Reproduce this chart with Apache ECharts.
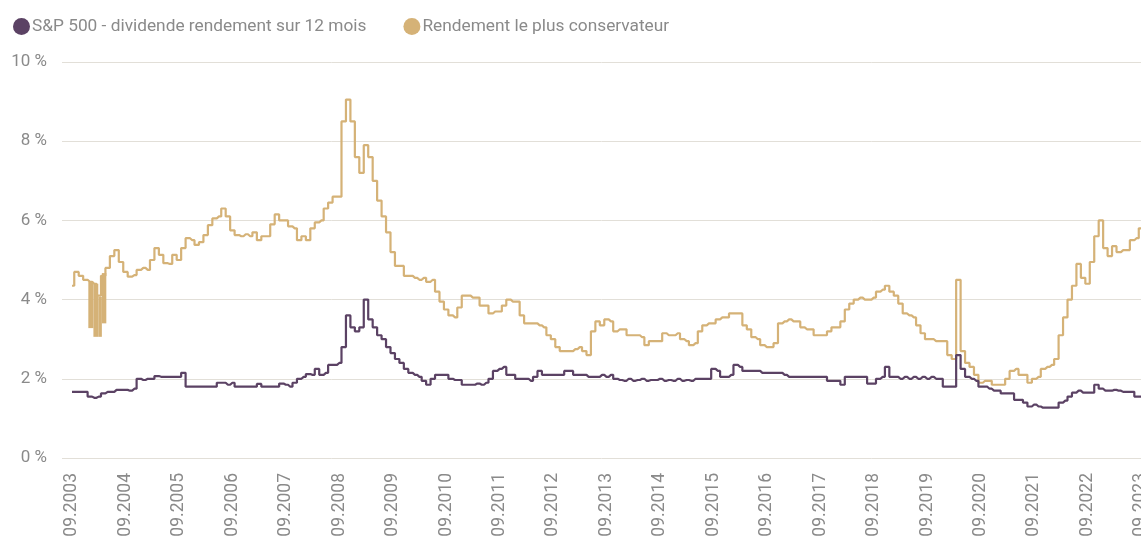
<!DOCTYPE html>
<html>
<head>
<meta charset="utf-8">
<script src="https://cdn.jsdelivr.net/npm/echarts@6/dist/echarts.min.js"></script>
<style>
  html, body { margin: 0; padding: 0; background: #fff; }
  #chart { width: 1141px; height: 539px; }
</style>
</head>
<body>
<div id="chart"></div>
<script>
// mois depuis 09.2003 (0 = 09.2003, 240 = 09.2023)
var startYear = 2003;
var tickMonths = [0, 12, 24, 36, 48, 60, 72, 84, 96, 108, 120, 132, 144, 156, 168, 180, 192, 204, 216, 228, 240];

// S&P 500 - dividende rendement sur 12 mois (valeurs mensuelles, %)
var dividendYield = [
    1.67, 1.67, 1.67, 1.67, 1.55, 1.52, 1.55, 1.63, 1.67, 1.67, 1.72, 1.72,
    1.72, 1.7, 1.75, 2.0, 1.97, 2.0, 2.0, 2.07, 2.05, 2.05, 2.05, 2.05,
    2.05, 2.15, 1.8, 1.8, 1.8, 1.8, 1.8, 1.8, 1.8, 1.9, 1.9, 1.85,
    1.9, 1.8, 1.8, 1.8, 1.8, 1.8, 1.87, 1.8, 1.8, 1.8, 1.8, 1.88,
    1.85, 1.8, 1.9, 2.0, 2.05, 2.12, 2.1, 2.25, 2.1, 2.15, 2.35, 2.35,
    2.4, 2.8, 3.6, 3.3, 3.2, 3.3, 4.0, 3.5, 3.3, 3.1, 3.0, 2.8,
    2.65, 2.5, 2.4, 2.25, 2.15, 2.1, 2.05, 1.95, 1.85, 2.0, 2.1, 2.1,
    2.1, 2.0, 1.97, 1.97, 1.85, 1.85, 1.85, 1.88, 1.85, 1.9, 2.0, 2.2,
    2.25, 2.3, 2.1, 2.1, 2.0, 2.0, 2.0, 1.95, 2.05, 2.2, 2.1, 2.1,
    2.1, 2.1, 2.1, 2.2, 2.2, 2.1, 2.1, 2.1, 2.05, 2.05, 2.05, 2.1,
    2.05, 2.1, 2.0, 1.97, 1.95, 2.0, 1.95, 1.97, 2.0, 1.95, 1.97, 1.97,
    2.0, 1.95, 1.97, 1.95, 2.0, 1.95, 1.97, 1.95, 2.0, 2.0, 2.0, 2.0,
    2.25, 2.2, 2.05, 2.05, 2.1, 2.35, 2.3, 2.2, 2.2, 2.2, 2.2, 2.15,
    2.15, 2.15, 2.15, 2.15, 2.1, 2.05, 2.05, 2.05, 2.05, 2.05, 2.05, 2.05,
    2.05, 2.05, 1.95, 1.95, 1.95, 1.85, 2.05, 2.05, 2.05, 2.05, 2.05, 1.88,
    1.88, 2.0, 2.05, 2.3, 2.05, 2.05, 2.0, 2.05, 2.0, 2.05, 2.0, 2.05,
    2.0, 2.05, 2.0, 2.0, 1.8, 1.8, 1.8, 2.6, 2.25, 2.05, 2.0, 1.95,
    1.8, 1.8, 1.75, 1.7, 1.7, 1.63, 1.63, 1.63, 1.47, 1.47, 1.4, 1.3,
    1.35, 1.3, 1.27, 1.27, 1.27, 1.27, 1.4, 1.45, 1.55, 1.65, 1.7, 1.65,
    1.65, 1.65, 1.85, 1.75, 1.7, 1.7, 1.72, 1.7, 1.67, 1.67, 1.67, 1.55,
    1.55
];

// Rendement le plus conservateur (valeurs mensuelles, %)
var conservativeYield = [
    4.35, 4.7, 4.6, 4.5, 4.45, 4.4, 4.1, 4.6, 4.8, 5.1, 5.25, 4.95,
    4.7, 4.58, 4.62, 4.75, 4.8, 4.75, 5.0, 5.3, 5.13, 4.92, 4.9, 5.13,
    5.0, 5.3, 5.55, 5.5, 5.38, 5.45, 5.63, 5.88, 6.05, 6.1, 6.3, 6.1,
    5.75, 5.63, 5.6, 5.65, 5.6, 5.7, 5.5, 5.6, 5.6, 5.9, 6.15, 6.0,
    6.0, 5.85, 5.8, 5.5, 5.6, 5.5, 5.8, 5.95, 6.0, 6.3, 6.45, 6.6,
    6.6, 8.5, 9.05, 8.5, 7.6, 7.2, 7.9, 7.6, 7.0, 6.5, 6.1, 5.7,
    5.2, 4.85, 4.85, 4.6, 4.6, 4.55, 4.5, 4.55, 4.45, 4.5, 4.2, 3.95,
    3.75, 3.6, 3.55, 3.8, 4.1, 4.1, 4.05, 4.05, 3.85, 3.85, 3.65, 3.7,
    3.7, 3.85, 4.0, 3.95, 3.95, 3.6, 3.4, 3.4, 3.4, 3.35, 3.3, 3.1,
    3.0, 2.8, 2.7, 2.7, 2.7, 2.75, 2.8, 2.7, 2.6, 3.2, 3.45, 3.35,
    3.5, 3.45, 3.2, 3.25, 3.25, 3.1, 3.1, 3.1, 3.05, 2.85, 2.95, 2.95,
    2.95, 3.15, 3.1, 3.1, 3.15, 3.0, 2.95, 2.85, 2.9, 3.2, 3.35, 3.4,
    3.4, 3.5, 3.55, 3.55, 3.65, 3.65, 3.65, 3.35, 3.25, 3.05, 3.0, 2.85,
    2.8, 2.8, 2.9, 3.4, 3.45, 3.5, 3.45, 3.45, 3.3, 3.25, 3.25, 3.1,
    3.1, 3.1, 3.2, 3.3, 3.3, 3.45, 3.75, 3.9, 4.0, 4.05, 4.0, 4.0,
    4.05, 4.2, 4.25, 4.35, 4.2, 4.1, 3.9, 3.65, 3.6, 3.55, 3.35, 3.15,
    3.0, 3.0, 2.95, 2.95, 2.95, 2.6, 2.5, 4.5, 2.7, 2.4, 2.3, 2.1,
    1.9, 1.95, 1.95, 1.85, 1.85, 1.85, 2.0, 2.2, 2.25, 2.1, 2.1, 1.9,
    2.0, 2.05, 2.25, 2.3, 2.35, 2.5, 3.1, 3.55, 4.0, 4.35, 4.9, 4.55,
    4.4, 4.95, 5.6, 6.0, 5.3, 5.1, 5.35, 5.2, 5.25, 5.25, 5.5, 5.55,
    5.8
];

// zone très agitée fin 2003 / début 2004 : tranches [début, fin] avec bas et haut de la bande
var noisyStart = [3.66, 4.8, 5.9, 6.7];
var noisyEnd = [4.8, 5.9, 6.7, 7.7];
var noisyLow = [3.28, 3.06, 3.06, 3.4];
var noisyHigh = [4.45, 4.4, 4.07, 4.67];

var seriesNames = ['S&P 500 - dividende rendement sur 12 mois', 'Rendement le plus conservateur'];
var colors = ['#5b4264', '#d5b277'];

var chart = echarts.init(document.getElementById('chart'));

var divData = dividendYield.map(function (v, i) { return [i, v]; });
var consData = conservativeYield.map(function (v, i) { return [i, v]; });
var bandData = noisyStart.map(function (m, i) {
    return [m, noisyEnd[i], noisyLow[i], noisyHigh[i]];
});

var labelColor = '#8a8a8a';
var font = 'Roboto, "Noto Sans", sans-serif';

// bande : un rectangle par tranche, placé avec les échelles du graphique
function renderBand(params, api) {
    var topLeft = api.coord([api.value(0), api.value(3)]);
    var bottomRight = api.coord([api.value(1), api.value(2)]);
    return {
        type: 'rect',
        shape: {
            x: topLeft[0],
            y: topLeft[1],
            width: bottomRight[0] - topLeft[0],
            height: bottomRight[1] - topLeft[1]
        },
        style: { fill: colors[1] }
    };
}

var option = {
    animation: false,
    color: colors,
    legend: {
        left: 8,
        top: 13,
        icon: 'circle',
        itemWidth: 17,
        itemHeight: 17,
        itemGap: 37,
        textStyle: { color: labelColor, fontSize: 17.3, fontFamily: font, padding: [0, 0, 0, -3] },
        data: seriesNames
    },
    grid: {
        left: 62,
        right: 0,
        top: 62,
        bottom: 81,
        outerBoundsMode: 'none'
    },
    xAxis: {
        type: 'value',
        min: -2.25,
        max: 240,
        axisLine: { show: false },
        axisTick: { show: false },
        splitLine: { show: false },
        axisLabel: {
            customValues: tickMonths,
            rotate: 90,
            margin: 15,
            color: labelColor,
            fontSize: 17.5,
            fontFamily: font,
            hideOverlap: false,
            formatter: function (v) {
                return '09.' + (startYear + Math.round(v / 12));
            }
        }
    },
    yAxis: {
        type: 'value',
        min: 0,
        max: 10,
        interval: 2,
        axisLine: { show: false },
        axisTick: { show: false },
        axisLabel: {
            margin: 15,
            color: labelColor,
            fontSize: 17,
            fontFamily: font,
            formatter: '{value} %'
        },
        splitLine: { lineStyle: { color: '#e2dfd8', width: 1 } }
    },
    series: [
        {
            name: seriesNames[0],
            type: 'line',
            step: 'middle',
            showSymbol: false,
            data: divData,
            lineStyle: { width: 2.2, color: colors[0] },
            z: 4
        },
        {
            name: seriesNames[1],
            type: 'line',
            step: 'middle',
            showSymbol: false,
            data: consData,
            lineStyle: { width: 2.2, color: colors[1] },
            z: 3
        },
        {
            name: 'bande',
            type: 'custom',
            silent: true,
            renderItem: renderBand,
            encode: { x: [0, 1], y: [2, 3] },
            data: bandData,
            z: 2
        }
    ]
};

chart.setOption(option);
window.addEventListener('resize', function () {
    chart.resize();
});
</script>
</body>
</html>
